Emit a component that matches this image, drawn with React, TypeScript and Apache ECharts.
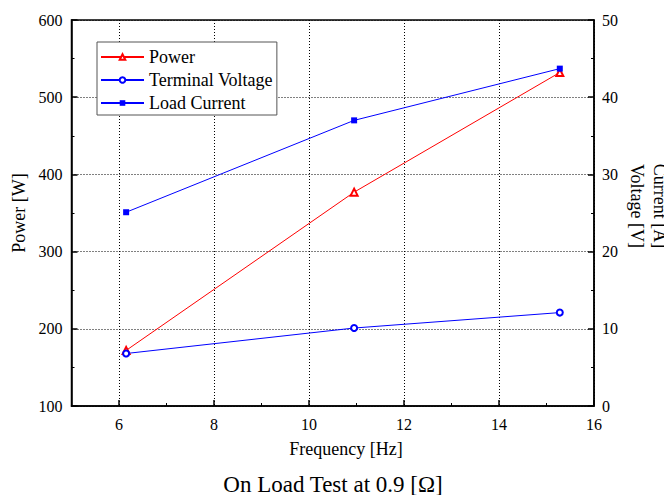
import React, { useEffect, useRef } from 'react';
import * as echarts from 'echarts';

const frequency = [6.15, 10.95, 15.28];
const power = [172, 377, 532];
const terminalVoltage = [6.8, 10.1, 12.1];
const loadCurrent = [25.1, 37.0, 43.7];
const xTickValues = [6, 8, 10, 12, 14, 16];
const xMinorTickValues = [7, 9, 11, 13, 15];

const FONT = 'Liberation Serif';

export default function App() {
  const ref = useRef<HTMLDivElement>(null);
  useEffect(() => {
    const chart = echarts.init(ref.current as HTMLDivElement, null, { renderer: 'svg' });
    const pair = (ys: number[]) => frequency.map((x, i) => [x, ys[i]]);
    const black = '#000';
    const tf = (size: number) => `${size}px ${FONT}`;
    chart.setOption({
      animation: false,
      backgroundColor: '#fff',
      textStyle: { fontFamily: FONT },
      grid: {
        left: 71.5, right: 70, top: 20, bottom: 89,
        show: true, borderColor: black, borderWidth: 1.5,
        outerBoundsMode: 'none',
      },
      legend: {
        orient: 'vertical',
        left: 97, top: 42,
        itemWidth: 43, itemHeight: 7, itemGap: 5,
        padding: [6, 4, 3, 3],
        borderColor: '#555', borderWidth: 1,
        backgroundColor: '#fff',
        textStyle: { fontSize: 18, lineHeight: 18, color: black, fontFamily: FONT },
        data: ['Power', 'Terminal Voltage', 'Load Current'],
      },
      xAxis: [
        {
          type: 'value', min: 5, max: 16, position: 'bottom',
          axisLine: { show: true, lineStyle: { color: black, width: 1.5 } },
          axisTick: { show: true, inside: true, length: 6, customValues: xTickValues, lineStyle: { color: black, width: 1.5 } },
          axisLabel: { customValues: xTickValues, fontSize: 16, color: black, margin: 10, fontFamily: FONT },
          splitLine: { show: true, lineStyle: { color: black, width: 1, type: [1, 2] } },
        },
        {
          type: 'value', min: 5, max: 16, position: 'bottom',
          axisLine: { show: false },
          axisTick: { show: true, inside: true, length: 3, customValues: xMinorTickValues, lineStyle: { color: black, width: 1 } },
          axisLabel: { show: false },
          splitLine: { show: false },
        },
      ],
      yAxis: [
        {
          type: 'value', min: 100, max: 600, interval: 100, position: 'left',
          name: 'Power [W]', nameLocation: 'middle', nameGap: 42, nameRotate: 90,
          nameTextStyle: { fontSize: 18, color: black, fontFamily: FONT },
          axisLine: { show: true, lineStyle: { color: black, width: 1.5 } },
          axisTick: { show: true, inside: true, length: 6, lineStyle: { color: black, width: 1.5 } },
          minorTick: { show: true, splitNumber: 2, length: 3, lineStyle: { color: black, width: 1 } },
          axisLabel: { fontSize: 16, color: black, margin: 9, fontFamily: FONT },
          splitLine: { show: true, lineStyle: { color: black, width: 1, type: [1, 2] } },
        },
        {
          type: 'value', min: 0, max: 50, interval: 10, position: 'right',
          axisLine: { show: true, lineStyle: { color: black, width: 1.5 } },
          axisTick: { show: true, inside: true, length: 6, lineStyle: { color: black, width: 1.5 } },
          minorTick: { show: true, splitNumber: 2, length: 3, lineStyle: { color: black, width: 1 } },
          axisLabel: { fontSize: 16, color: black, margin: 8, fontFamily: FONT },
          splitLine: { show: false },
        },
      ],
      graphic: [
        {
          type: 'text', x: 346, y: 449,
          style: { text: 'Frequency [Hz]', font: tf(18), fill: black, align: 'center', verticalAlign: 'middle', textAlign: 'center', textVerticalAlign: 'middle' },
        },
        {
          type: 'text', x: 333, y: 484,
          style: { text: 'On Load Test at 0.9 [Ω]', font: tf(23), fill: black, align: 'center', verticalAlign: 'middle', textAlign: 'center', textVerticalAlign: 'middle' },
        },
        {
          type: 'text', x: 637, y: 206, rotation: -Math.PI / 2,
          style: { text: 'Voltage [V]', font: tf(18), fill: black, align: 'center', verticalAlign: 'middle', textAlign: 'center', textVerticalAlign: 'middle' },
        },
        {
          type: 'text', x: 660, y: 206, rotation: -Math.PI / 2,
          style: { text: 'Current [A]', font: tf(18), fill: black, align: 'center', verticalAlign: 'middle', textAlign: 'center', textVerticalAlign: 'middle' },
        },
      ],
      series: [
        {
          name: 'Power', type: 'line', xAxisIndex: 0, yAxisIndex: 0,
          data: pair(power),
          symbol: 'emptyTriangle', symbolSize: 7,
          lineStyle: { color: '#ff0000', width: 1 },
          itemStyle: { color: '#ff0000', borderWidth: 1 },
        },
        {
          name: 'Terminal Voltage', type: 'line', xAxisIndex: 0, yAxisIndex: 1,
          data: pair(terminalVoltage),
          symbol: 'emptyCircle', symbolSize: 6,
          lineStyle: { color: '#0000ff', width: 1 },
          itemStyle: { color: '#0000ff', borderWidth: 1 },
        },
        {
          name: 'Load Current', type: 'line', xAxisIndex: 0, yAxisIndex: 1,
          data: pair(loadCurrent),
          symbol: 'rect', symbolSize: 6,
          lineStyle: { color: '#0000ff', width: 1 },
          itemStyle: { color: '#0000ff' },
        },
      ],
    });
    return () => chart.dispose();
  }, []);
  return <div ref={ref} style={{ position: 'fixed', left: 0, top: 0, width: 664, height: 495 }} />;
}
